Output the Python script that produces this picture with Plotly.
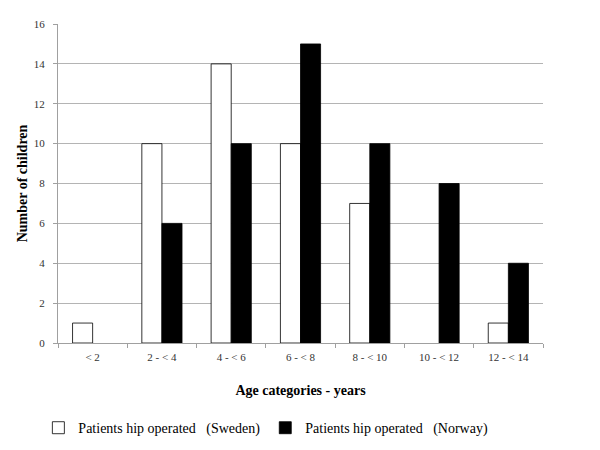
import plotly.graph_objects as go

categories = ["< 2", "2 - < 4", "4 - < 6", "6 - < 8", "8 - < 10", "10 - < 12", "12 - < 14"]
sweden = [1, 10, 14, 10, 7, 0, 1]
norway = [0, 6, 10, 15, 10, 8, 4]
y_ticks = [0, 2, 4, 6, 8, 10, 12, 14, 16]

font_family = "Liberation Serif"

def hide_zero(vals):
    return [v if v != 0 else None for v in vals]

fig = go.Figure()
fig.add_trace(go.Bar(
    x=categories, y=hide_zero(sweden), name="Patients hip operated   (Sweden)",
    marker=dict(color="white", line=dict(color="black", width=0.8)),
))
fig.add_trace(go.Bar(
    x=categories, y=hide_zero(norway), name="Patients hip operated   (Norway)",
    marker=dict(color="black", line=dict(color="black", width=0.8)),
))

# page body has an 8px default margin on every side; size the figure so the page is exactly 600x450
fig.update_layout(
    width=584, height=434,
    margin=dict(l=50, r=49, t=16, b=99),
    paper_bgcolor="white", plot_bgcolor="white",
    barmode="group", bargap=0.42, bargroupgap=0,
    font=dict(family=font_family, color="#222222", size=11),
    showlegend=True,
    legend=dict(orientation="h", xref="container", yref="container",
                x=0.052, xanchor="left", y=0.032, yanchor="middle",
                font=dict(size=14, family=font_family, color="black"),
                traceorder="normal"),
)
fig.update_xaxes(
    title=dict(text="<b>Age categories - years</b>", font=dict(size=14, family=font_family, color="black"), standoff=22),
    automargin=False,
    showline=True, linecolor="#a0a0a0", linewidth=1,
    ticks="outside", tickson="boundaries", ticklen=4, tickcolor="#a0a0a0",
    ticklabelstandoff=4,
    tickfont=dict(size=11, family=font_family, color="#333333"),
    showgrid=False,
)
fig.update_yaxes(
    title=dict(text="<b>Number of children</b>", font=dict(size=14, family=font_family, color="black"), standoff=2),
    automargin=False,
    range=[0, 16], tickvals=y_ticks,
    showline=True, linecolor="#a0a0a0", linewidth=1,
    ticks="outside", ticklen=4, tickcolor="#a0a0a0",
    ticklabelstandoff=6,
    tickfont=dict(size=11, family=font_family, color="#333333"),
    showgrid=True, gridcolor="#b4b4b4", gridwidth=1,
    zeroline=False,
)

fig.write_html("out.html")
